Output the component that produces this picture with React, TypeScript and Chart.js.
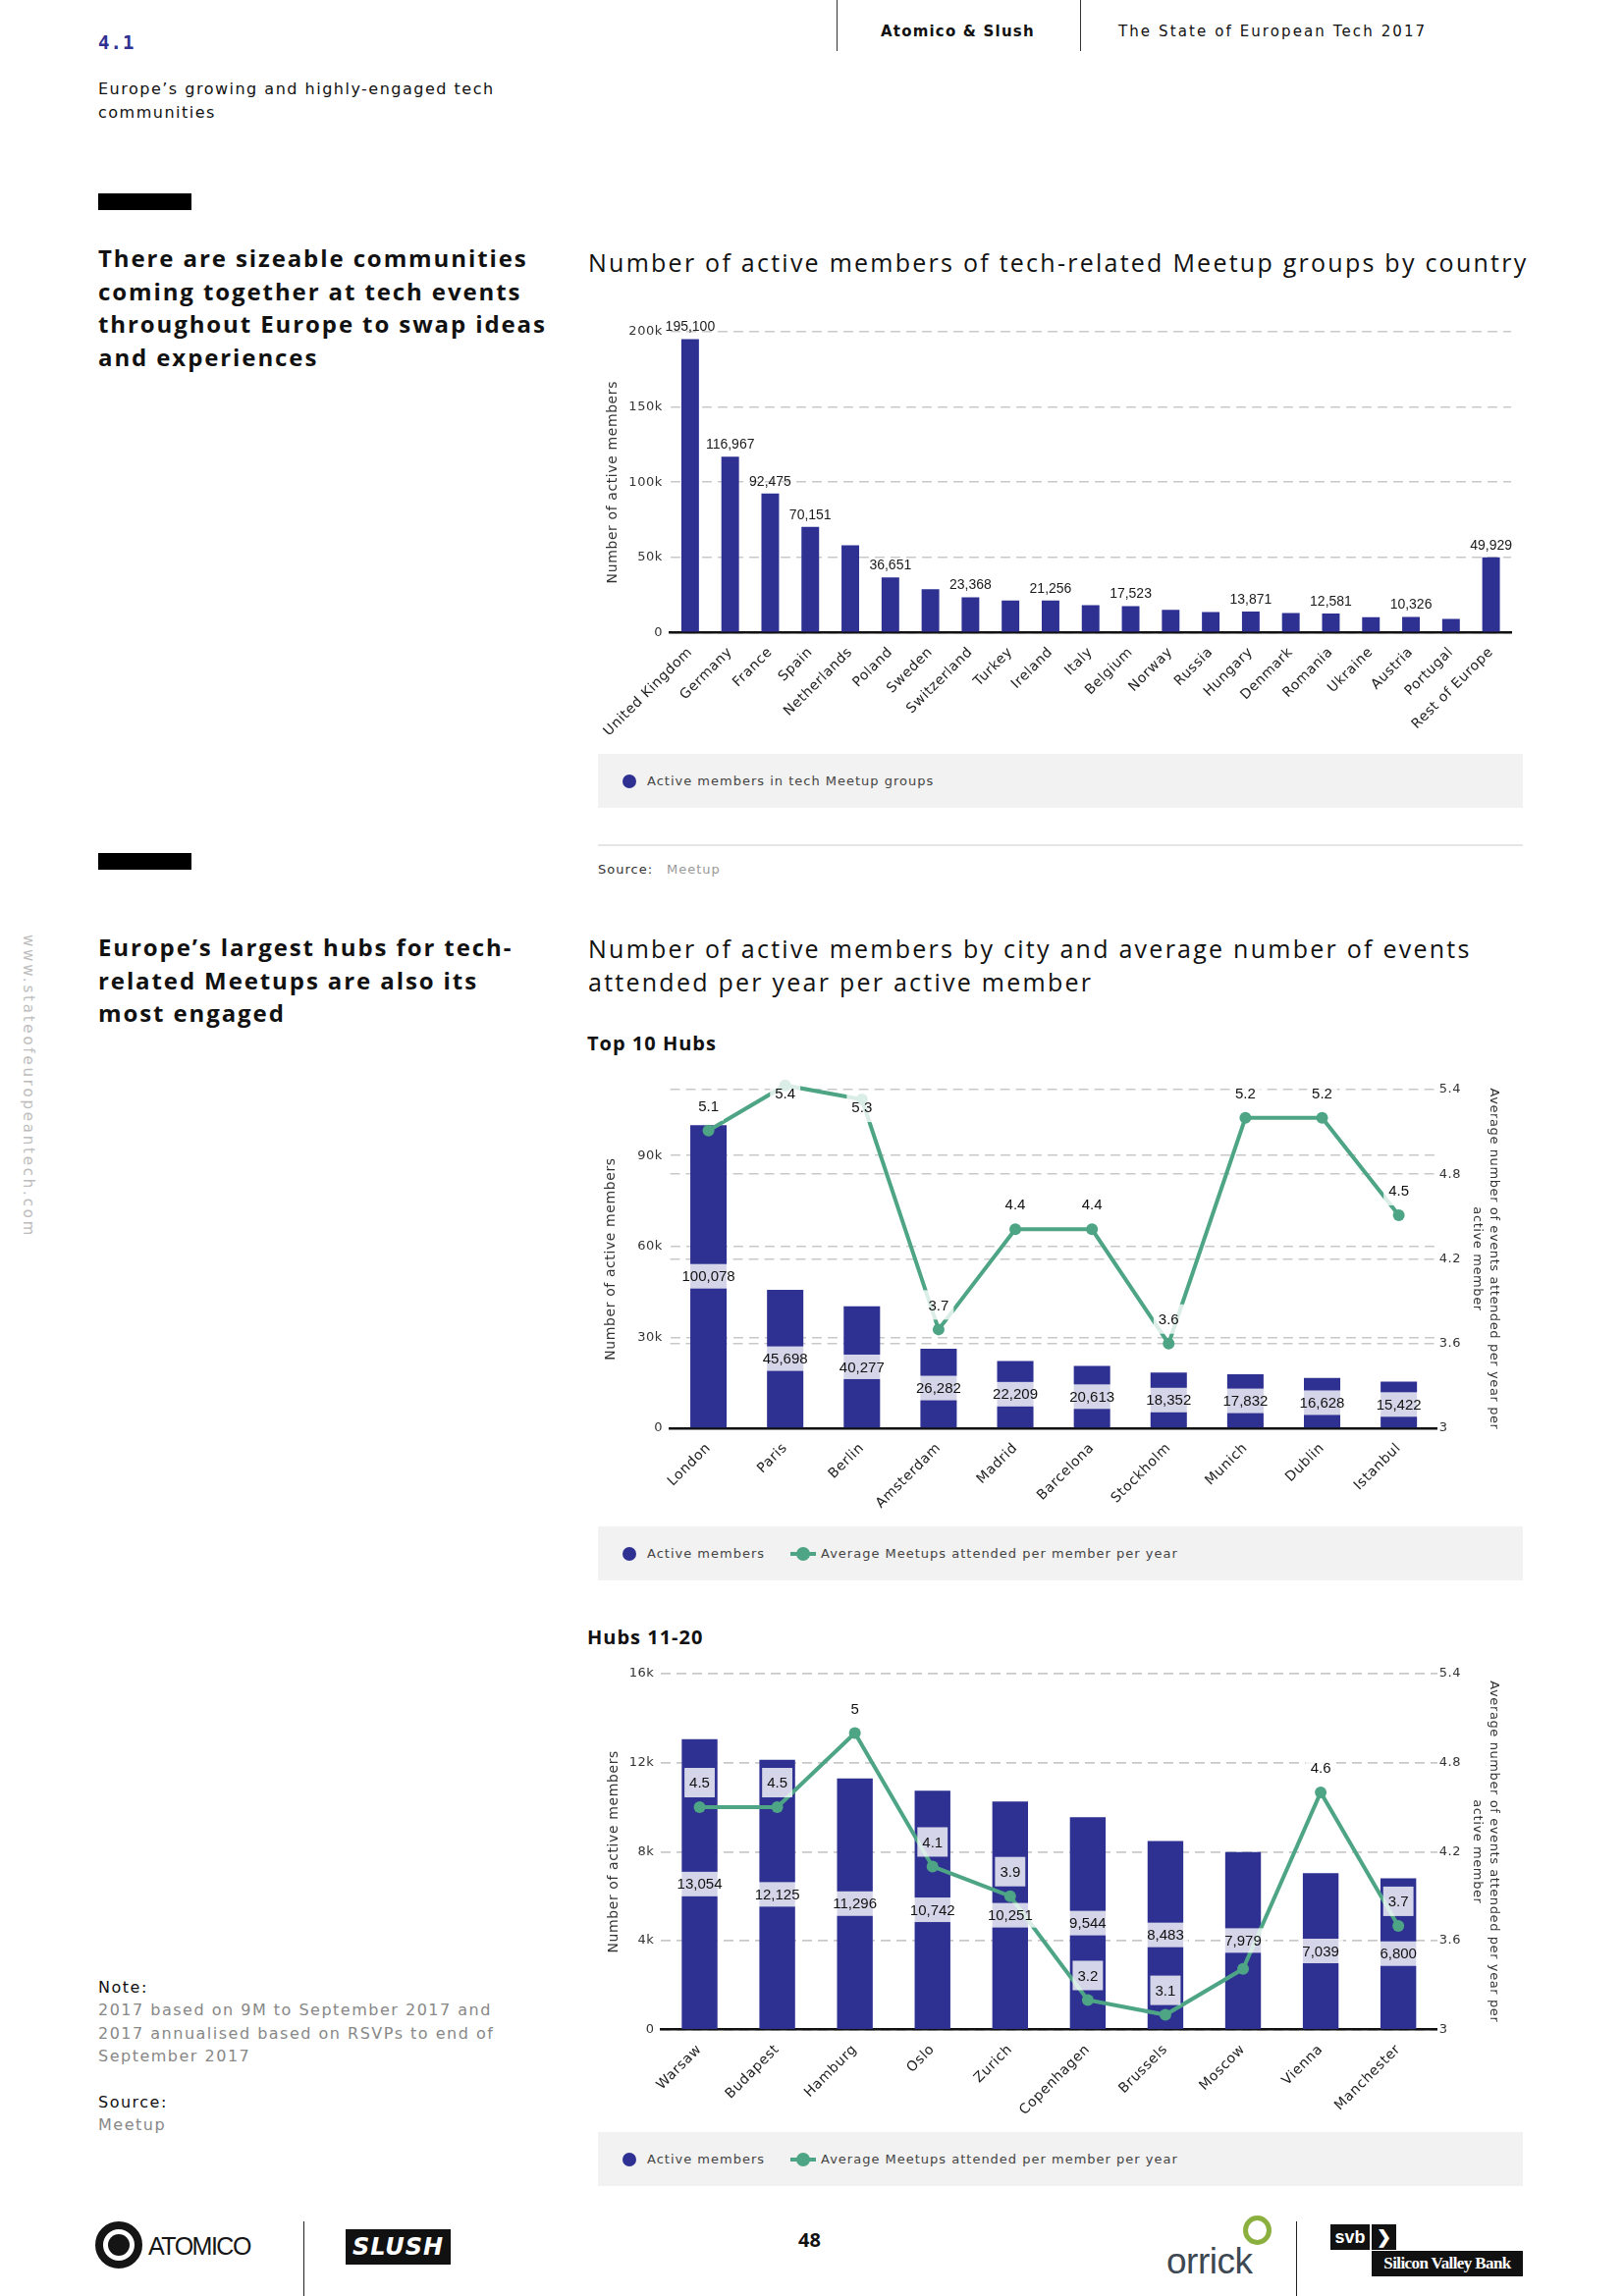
import React, { useEffect, useRef } from "react";
import { Chart, registerables } from "chart.js";

Chart.register(...registerables);

// ---------------- DATA ----------------
const countries = [
  "United Kingdom", "Germany", "France", "Spain", "Netherlands", "Poland", "Sweden",
  "Switzerland", "Turkey", "Ireland", "Italy", "Belgium", "Norway", "Russia", "Hungary",
  "Denmark", "Romania", "Ukraine", "Austria", "Portugal", "Rest of Europe",
];
const countryMembers = [
  195100, 116967, 92475, 70151, 58000, 36651, 28700, 23368, 21200, 21256, 18200,
  17523, 15000, 13500, 13871, 13000, 12581, 10100, 10326, 9000, 49929,
];
const countryTicks = [0, 50000, 100000, 150000, 200000];

const top10Cities = ["London", "Paris", "Berlin", "Amsterdam", "Madrid", "Barcelona", "Stockholm", "Munich", "Dublin", "Istanbul"];
const top10Members = [100078, 45698, 40277, 26282, 22209, 20613, 18352, 17832, 16628, 15422];
const top10Events = [5.11, 5.43, 5.33, 3.7, 4.41, 4.41, 3.6, 5.2, 5.2, 4.51];
const top10MemberTicks = [0, 30000, 60000, 90000];
const top10MemberMax = 111800;

const hubs20Cities = ["Warsaw", "Budapest", "Hamburg", "Oslo", "Zurich", "Copenhagen", "Brussels", "Moscow", "Vienna", "Manchester"];
const hubs20Members = [13054, 12125, 11296, 10742, 10251, 9544, 8483, 7979, 7039, 6800];
const hubs20Events = [4.5, 4.5, 5.0, 4.1, 3.9, 3.2, 3.1, 3.41, 4.6, 3.7];
const hubs20MemberTicks = [0, 4000, 8000, 12000, 16000];

const eventTicks = [3, 3.6, 4.2, 4.8, 5.4];

// ---------------- STYLE ----------------
const NAVY = "#2e3192";
const GREEN = "#4ea585";
const GRID = "#c9c9c9";
const SANS = "'DejaVu Sans', sans-serif";
const HEAD = "'Open Sans', sans-serif";
const LABEL_FONT = "'Liberation Sans', Arial, sans-serif";

const fmt = (n: number) => n.toLocaleString("en-US");
const kfmt = (v: number) => (v === 0 ? "0" : v / 1000 + "k");
const efmt = (v: number) => String(Number(v.toFixed(1)));

const spacingPlugin = {
  id: "spacing",
  beforeDraw(chart: any) {
    (chart.ctx as any).letterSpacing = "0.6px";
  },
};

type Box = { x1: number; x2: number; y1: number; y2: number };
const overlaps = (a: Box, b: Box) => a.x1 < b.x2 && b.x1 < a.x2 && a.y1 < b.y2 && b.y1 < a.y2;

const barTopLabels = {
  id: "barTopLabels",
  afterDatasetsDraw(chart: any) {
    const ctx = chart.ctx;
    const meta = chart.getDatasetMeta(0);
    const data = chart.data.datasets[0].data as number[];
    ctx.save();
    ctx.letterSpacing = "0px";
    ctx.font = `14px ${LABEL_FONT}`;
    ctx.textAlign = "center";
    ctx.textBaseline = "middle";
    ctx.fillStyle = "#1a1a1a";
    const order = data.map((_, i) => i).sort((a, b) => data[b] - data[a]);
    const boxes: Box[] = [];
    for (const i of order) {
      const el = meta.data[i];
      const text = fmt(data[i]);
      const w = ctx.measureText(text).width + 6;
      const h = 20;
      const cx = el.x;
      const cy = el.y - 12;
      const box = { x1: cx - w / 2, x2: cx + w / 2, y1: cy - h / 2, y2: cy + h / 2 };
      if (boxes.some((b) => overlaps(b, box))) continue;
      boxes.push(box);
      ctx.fillText(text, cx, cy);
    }
    ctx.restore();
  },
};

const comboLabels = {
  id: "comboLabels",
  afterDatasetsDraw(chart: any) {
    const ctx = chart.ctx;
    const area = chart.chartArea;
    const barMeta = chart.getDatasetMeta(0);
    const lineMeta = chart.getDatasetMeta(1);
    const bars = chart.data.datasets[0].data as number[];
    const line = chart.data.datasets[1].data as number[];
    ctx.save();
    ctx.letterSpacing = "0px";
    ctx.font = `15px ${LABEL_FONT}`;
    ctx.textAlign = "center";
    ctx.textBaseline = "middle";
    const boxes: Box[] = [];
    bars.forEach((v, i) => {
      const el = barMeta.data[i];
      const cx = el.x;
      const cy = (el.y + el.base) / 2;
      const text = fmt(v);
      const w = ctx.measureText(text).width + 8;
      const h = 25;
      ctx.fillStyle = "rgba(255,255,255,0.8)";
      ctx.fillRect(cx - w / 2, cy - h / 2, w, h);
      ctx.fillStyle = "#111";
      ctx.fillText(text, cx, cy + 1);
      boxes.push({ x1: cx - w / 2, x2: cx + w / 2, y1: cy - h / 2, y2: cy + h / 2 });
    });
    line.forEach((v, i) => {
      const pt = lineMeta.data[i];
      let cy = pt.y - 25;
      if (cy < area.top) cy = pt.y + 8;
      const cx = pt.x;
      const text = efmt(v);
      const w = ctx.measureText(text).width + 10;
      const h = 30;
      const box = { x1: cx - w / 2, x2: cx + w / 2, y1: cy - h / 2, y2: cy + h / 2 };
      if (boxes.some((b) => overlaps(b, box))) return;
      ctx.fillStyle = "rgba(255,255,255,0.8)";
      ctx.fillRect(box.x1, box.y1, w, h);
      ctx.fillStyle = "#111";
      ctx.fillText(text, cx, cy + 1);
    });
    ctx.restore();
  },
};

const tickFont = { family: SANS, size: 13 };
const xTickFont = { family: SANS, size: 14 };
const titleFont = { family: SANS, size: 14, lineHeight: 1.2 };
const rightTitleFont = { family: SANS, size: 13, lineHeight: 1.3 };

function xScale(height: number) {
  return {
    z: 1,
    grid: { display: false },
    border: { display: true, color: "#111", width: 2.5 },
    ticks: { maxRotation: 45, minRotation: 45, autoSkip: false, font: xTickFont, color: "#222", padding: 4 },
    afterFit(s: any) {
      s.height = height;
      s.paddingLeft = 0;
      s.paddingRight = 0;
    },
  };
}

function leftScale(width: number, max: number, ticks: number[], pad: number) {
  return {
    position: "left",
    min: 0,
    max,
    afterBuildTicks(s: any) {
      s.ticks = ticks.map((v) => ({ value: v }));
    },
    grid: { color: GRID, lineWidth: 1.6, drawTicks: false },
    border: { display: false, dash: [10, 6] },
    ticks: { font: tickFont, color: "#333", padding: pad, callback: (v: any) => kfmt(Number(v)) },
    title: { display: true, text: "Number of active members", font: titleFont, color: "#333", padding: { top: 4, bottom: 0 } },
    afterFit(s: any) {
      s.width = width;
      s.paddingTop = 0;
      s.paddingBottom = 0;
    },
  };
}

function rightScale(width: number) {
  return {
    position: "right",
    min: 3,
    max: 5.4,
    afterBuildTicks(s: any) {
      s.ticks = eventTicks.map((v) => ({ value: v }));
    },
    grid: { color: GRID, lineWidth: 1.6, drawTicks: false },
    border: { display: false, dash: [10, 6] },
    ticks: { font: tickFont, color: "#333", padding: 2, callback: (v: any) => efmt(Number(v)) },
    title: {
      display: true,
      text: ["Average number of events attended per year per", "active member"],
      font: rightTitleFont,
      color: "#333",
      padding: { top: 4, bottom: 0 },
    },
    afterFit(s: any) {
      s.width = width;
      s.paddingTop = 0;
      s.paddingBottom = 0;
    },
  };
}

function countryConfig(): any {
  return {
    type: "bar",
    data: {
      labels: countries,
      datasets: [
        {
          label: "Active members in tech Meetup groups",
          data: countryMembers,
          backgroundColor: NAVY,
          borderWidth: 0,
          barPercentage: 0.44,
          categoryPercentage: 1,
        },
      ],
    },
    options: {
      animation: false,
      responsive: false,
      devicePixelRatio: 1,
      layout: { padding: { top: 38, right: 12, left: 0, bottom: 0 } },
      plugins: { legend: { display: false }, tooltip: { enabled: false } },
      scales: {
        x: xScale(119.7),
        y: leftScale(70.5, 200000, countryTicks, 7.5),
      },
    },
    plugins: [spacingPlugin, barTopLabels],
  };
}

function comboConfig(cities: string[], members: number[], events: number[], leftMax: number, leftTicks: number[], leftW: number, leftPad: number, topPad: number, xH: number, barPct: number): any {
  return {
    type: "bar",
    data: {
      labels: cities,
      datasets: [
        {
          type: "bar",
          label: "Active members",
          data: members,
          backgroundColor: NAVY,
          borderWidth: 0,
          barPercentage: barPct,
          categoryPercentage: 1,
          yAxisID: "y",
          order: 2,
        },
        {
          type: "line",
          label: "Average Meetups attended per member per year",
          data: events,
          borderColor: GREEN,
          backgroundColor: GREEN,
          borderWidth: 4,
          pointRadius: 6,
          pointBorderWidth: 0,
          pointBackgroundColor: GREEN,
          tension: 0,
          clip: false,
          yAxisID: "y1",
          order: 1,
        },
      ],
    },
    options: {
      animation: false,
      responsive: false,
      devicePixelRatio: 1,
      layout: { padding: { top: topPad, right: 0, left: 0, bottom: 0 } },
      plugins: { legend: { display: false }, tooltip: { enabled: false } },
      scales: {
        x: xScale(xH),
        y: leftScale(leftW, leftMax, leftTicks, leftPad),
        y1: rightScale(70.3),
      },
    },
    plugins: [spacingPlugin, comboLabels],
  };
}

function ChartCanvas({ left, top, width, height, make }: { left: number; top: number; width: number; height: number; make: () => any }) {
  const ref = useRef<HTMLCanvasElement | null>(null);
  useEffect(() => {
    if (!ref.current) return;
    const chart = new Chart(ref.current, make());
    return () => chart.destroy();
  }, []);
  return (
    <canvas
      ref={ref}
      width={width}
      height={height}
      style={{ position: "absolute", left, top, width, height }}
    />
  );
}

function Txt({ x, y, size, lh, children, style }: { x: number; y: number; size: number; lh: number; children: React.ReactNode; style?: React.CSSProperties }) {
  return (
    <div
      style={{
        position: "absolute",
        left: x,
        top: y - lh / 2,
        fontSize: size,
        lineHeight: lh + "px",
        whiteSpace: "nowrap",
        fontFamily: SANS,
        color: "#111",
        ...style,
      }}
    >
      {children}
    </div>
  );
}

function Dot({ x, y, color }: { x: number; y: number; color: string }) {
  return <div style={{ position: "absolute", left: x - 7, top: y - 7, width: 14, height: 14, borderRadius: "50%", background: color }} />;
}

function LegendBox({ top, combo, first }: { top: number; combo: boolean; first: string }) {
  const cy = top + 27.5;
  return (
    <>
      <div style={{ position: "absolute", left: 609, top, width: 942, height: 55, background: "#f2f2f2" }} />
      <Dot x={641} y={cy} color={NAVY} />
      <Txt x={659} y={cy} size={13} lh={18} style={{ letterSpacing: "1px", color: "#444" }}>{first}</Txt>
      {combo && (
        <>
          <div style={{ position: "absolute", left: 805, top: cy - 2, width: 26, height: 4, background: GREEN }} />
          <Dot x={818} y={cy} color={GREEN} />
          <Txt x={836} y={cy} size={13} lh={18} style={{ letterSpacing: "1px", color: "#444" }}>
            Average Meetups attended per member per year
          </Txt>
        </>
      )}
    </>
  );
}

export default function App() {
  const headStyle: React.CSSProperties = { fontFamily: HEAD, fontWeight: 700, letterSpacing: "1.9px", color: "#111" };
  const titleStyle: React.CSSProperties = { fontFamily: HEAD, fontWeight: 400, letterSpacing: "2.25px", color: "#111" };
  return (
    <div style={{ position: "absolute", left: 0, top: 0, width: 1654, height: 2339, background: "#fff", overflow: "hidden" }}>
      {/* header */}
      <Txt x={100} y={43} size={19} lh={24} style={{ fontFamily: "'DejaVu Sans Mono', monospace", fontWeight: 700, color: NAVY, letterSpacing: "1px" }}>4.1</Txt>
      <div style={{ position: "absolute", left: 852, top: 0, width: 1, height: 52, background: "#333" }} />
      <div style={{ position: "absolute", left: 1100, top: 0, width: 1, height: 52, background: "#333" }} />
      <Txt x={897} y={32} size={15} lh={20} style={{ fontWeight: 700, letterSpacing: "1.2px" }}>Atomico &amp; Slush</Txt>
      <Txt x={1139} y={32} size={15} lh={20} style={{ letterSpacing: "2.1px" }}>The State of European Tech 2017</Txt>
      <Txt x={100} y={91} size={16} lh={24} style={{ letterSpacing: "1.5px" }}>Europe’s growing and highly-engaged tech</Txt>
      <Txt x={100} y={115} size={16} lh={24} style={{ letterSpacing: "1.5px" }}>communities</Txt>

      {/* section 1 */}
      <div style={{ position: "absolute", left: 100, top: 197, width: 95, height: 17, background: "#000" }} />
      {["There are sizeable communities", "coming together at tech events", "throughout Europe to swap ideas", "and experiences"].map((l, i) => (
        <Txt key={l} x={100} y={263 + i * 33.7} size={24} lh={32} style={headStyle}>{l}</Txt>
      ))}
      <Txt x={599} y={267} size={25} lh={32} style={titleStyle}>Number of active members of tech-related Meetup groups by country</Txt>
      <ChartCanvas left={612} top={300} width={939} height={464} make={countryConfig} />
      <LegendBox top={768} combo={false} first="Active members in tech Meetup groups" />
      <div style={{ position: "absolute", left: 609, top: 860, width: 942, height: 2, background: "#e6e6e6" }} />
      <Txt x={609} y={886} size={13} lh={18} style={{ letterSpacing: "1px", color: "#333" }}>Source:</Txt>
      <Txt x={679} y={886} size={13} lh={18} style={{ letterSpacing: "1px", color: "#999" }}>Meetup</Txt>

      {/* section 2 */}
      <div style={{ position: "absolute", left: 100, top: 869, width: 95, height: 17, background: "#000" }} />
      {["Europe’s largest hubs for tech-", "related Meetups are also its", "most engaged"].map((l, i) => (
        <Txt key={l} x={100} y={965 + i * 33.7} size={24} lh={32} style={headStyle}>{l}</Txt>
      ))}
      <div
        style={{
          position: "absolute",
          left: 20,
          top: 952,
          writingMode: "vertical-rl",
          fontFamily: SANS,
          fontSize: 15,
          lineHeight: "18px",
          letterSpacing: "2.8px",
          color: "#bdbdbd",
          whiteSpace: "nowrap",
        }}
      >
        www.stateofeuropeantech.com
      </div>
      <Txt x={599} y={966} size={25} lh={32} style={titleStyle}>Number of active members by city and average number of events</Txt>
      <Txt x={599} y={1000} size={25} lh={32} style={titleStyle}>attended per year per active member</Txt>
      <Txt x={598} y={1063} size={20} lh={26} style={{ fontFamily: HEAD, fontWeight: 700, letterSpacing: "1px" }}>Top 10 Hubs</Txt>
      <ChartCanvas
        left={610}
        top={1060}
        width={924}
        height={490}
        make={() => comboConfig(top10Cities, top10Members, top10Events, top10MemberMax, top10MemberTicks, 72.5, 7.5, 50, 95, 0.474)}
      />
      <LegendBox top={1555} combo={true} first="Active members" />

      <Txt x={598} y={1668} size={20} lh={26} style={{ fontFamily: HEAD, fontWeight: 700, letterSpacing: "1px" }}>Hubs 11-20</Txt>
      <ChartCanvas
        left={613}
        top={1699}
        width={921}
        height={469}
        make={() => comboConfig(hubs20Cities, hubs20Members, hubs20Events, 16000, hubs20MemberTicks, 60, 6.5, 1.7, 100.3, 0.46)}
      />
      <LegendBox top={2172} combo={true} first="Active members" />

      {/* notes */}
      <Txt x={100} y={2024} size={16} lh={23} style={{ letterSpacing: "1.5px" }}>Note:</Txt>
      {["2017 based on 9M to September 2017 and", "2017 annualised based on RSVPs to end of", "September 2017"].map((l, i) => (
        <Txt key={l} x={100} y={2047.7 + i * 23.3} size={16} lh={23} style={{ letterSpacing: "1.5px", color: "#888" }}>{l}</Txt>
      ))}
      <Txt x={100} y={2141} size={16} lh={23} style={{ letterSpacing: "1.5px" }}>Source:</Txt>
      <Txt x={100} y={2164} size={16} lh={23} style={{ letterSpacing: "1.5px", color: "#888" }}>Meetup</Txt>

      {/* footer */}
      <div style={{ position: "absolute", left: 97, top: 2263, width: 48, height: 48, borderRadius: "50%", border: "8px solid #151515", boxSizing: "border-box" }} />
      <div style={{ position: "absolute", left: 110, top: 2276, width: 22, height: 22, borderRadius: "50%", background: "#151515" }} />
      <Txt x={151} y={2288} size={25} lh={30} style={{ fontFamily: LABEL_FONT, letterSpacing: "-1.5px", color: "#151515" }}>ATOMICO</Txt>
      <div style={{ position: "absolute", left: 309, top: 2263, width: 1, height: 76, background: "#222" }} />
      <div style={{ position: "absolute", left: 352, top: 2271, width: 107, height: 36, background: "#111", color: "#fff", fontFamily: SANS, fontWeight: 700, fontStyle: "italic", fontSize: 24, lineHeight: "36px", textAlign: "center", letterSpacing: "1px" }}>
        SLUSH
      </div>
      <Txt x={813} y={2282} size={20} lh={26} style={{ fontFamily: HEAD, fontWeight: 700 }}>48</Txt>
      <div style={{ position: "absolute", left: 1266, top: 2257, width: 29, height: 30, borderRadius: "50%", border: "5px solid #8cb040", boxSizing: "border-box" }} />
      <Txt x={1188} y={2304} size={37} lh={40} style={{ fontFamily: LABEL_FONT, color: "#3d4853", letterSpacing: "-0.5px" }}>orrick</Txt>
      <div style={{ position: "absolute", left: 1320, top: 2263, width: 1, height: 76, background: "#222" }} />
      <div style={{ position: "absolute", left: 1355, top: 2266, width: 40, height: 26, background: "#111", color: "#fff", fontFamily: LABEL_FONT, fontWeight: 700, fontSize: 18, lineHeight: "26px", textAlign: "center" }}>svb</div>
      <div style={{ position: "absolute", left: 1397, top: 2266, width: 25, height: 26, background: "#111", color: "#fff", fontFamily: LABEL_FONT, fontWeight: 700, fontSize: 18, lineHeight: "26px", textAlign: "center" }}>❯</div>
      <div style={{ position: "absolute", left: 1397, top: 2293, width: 154, height: 26, background: "#111", color: "#fff", fontFamily: "'Liberation Serif', serif", fontWeight: 700, fontSize: 17, lineHeight: "26px", textAlign: "center", letterSpacing: "-0.6px" }}>
        Silicon Valley Bank
      </div>
    </div>
  );
}
